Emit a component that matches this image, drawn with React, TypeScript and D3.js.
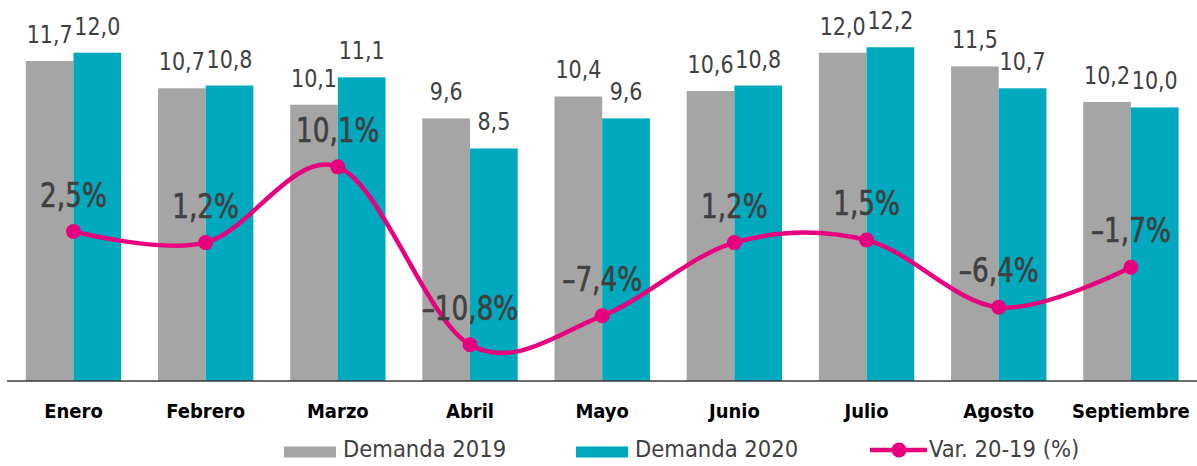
import React from "react";
import * as d3 from "d3";

const categories = ["Enero", "Febrero", "Marzo", "Abril", "Mayo", "Junio", "Julio", "Agosto", "Septiembre"];
const demanda2019 = [11.7, 10.7, 10.1, 9.6, 10.4, 10.6, 12.0, 11.5, 10.2];
const demanda2020 = [12.0, 10.8, 11.1, 8.5, 9.6, 10.8, 12.2, 10.7, 10.0];
const variacion = [2.5, 1.2, 10.1, -10.8, -7.4, 1.2, 1.5, -6.4, -1.7];
const seriesNames = ["Demanda 2019", "Demanda 2020", "Var. 20-19 (%)"];

const W = 1197;
const H = 466;
const FONT = "'DejaVu Sans Condensed', 'DejaVu Sans', sans-serif";
const GRAY = "#a5a5a5";
const TEAL = "#00a9bd";
const MAGENTA = "#e6007e";
const TEXT = "#404040";

const fmt = (v: number) => v.toFixed(1).replace(".", ",");
const fmtPct = (v: number) => (v < 0 ? "–" : "") + Math.abs(v).toFixed(1).replace(".", ",") + "%";

export default function App() {
  const x = d3.scaleBand<string>().domain(categories).range([7.4, 1197]).paddingInner(0).paddingOuter(0);
  const inner = d3.scaleBand<string>().domain(["a", "b"]).range([0, x.bandwidth()]).paddingOuter(0.386).paddingInner(0);
  const y = d3.scaleLinear().domain([0, 14]).range([381, -2]);
  const y2 = d3.scaleLinear().domain([-15, 30]).range([380.5, -2.5]);

  const pts: [number, number][] = variacion.map((v, i) => [x(categories[i])! + x.bandwidth() / 2, y2(v)]);
  const line = d3.line().curve(d3.curveCatmullRom.alpha(0))(pts) || "";

  return (
    <svg width={W} height={H} style={{ position: "absolute", left: 0, top: 0, background: "#fff" }} fontFamily={FONT}>
      {categories.map((c, i) => {
        const x0 = x(c)!;
        const bars = [
          { v: demanda2019[i], k: "a", col: GRAY },
          { v: demanda2020[i], k: "b", col: TEAL },
        ];
        return (
          <g key={c}>
            {bars.map((b) => (
              <g key={b.k}>
                <rect x={x0 + inner(b.k)!} y={y(b.v)} width={inner.bandwidth()} height={y(0) - y(b.v)} fill={b.col} />
                <text
                  transform={`translate(${x0 + inner(b.k)! + inner.bandwidth() / 2},${y(b.v) - 18}) scale(0.9,1)`}
                  textAnchor="middle"
                  fontSize={25.5}
                  fill={TEXT}
                >
                  {fmt(b.v)}
                </text>
              </g>
            ))}
            <text x={x0 + x.bandwidth() / 2} y={418} textAnchor="middle" fontSize={20} fontWeight="bold" fill="#000">
              {c}
            </text>
          </g>
        );
      })}
      <line x1={7} x2={1197} y1={381} y2={381} stroke="#3a3a3a" strokeWidth={1.5} />
      <path d={line} fill="none" stroke={MAGENTA} strokeWidth={4.5} />
      {pts.map((p, i) => (
        <g key={i}>
          <circle cx={p[0]} cy={p[1]} r={7.5} fill={MAGENTA} />
          <text
            transform={`translate(${p[0]},${p[1] - 25}) scale(0.86,1)`}
            textAnchor="middle"
            fontSize={34}
            fill={TEXT}
            stroke={TEXT}
            strokeWidth={0.6}
          >
            {fmtPct(variacion[i])}
          </text>
        </g>
      ))}
      <g>
        <rect x={284} y={446.5} width={52} height={11} fill={GRAY} />
        <text x={343} y={457} fontSize={23.5} fill={TEXT}>{seriesNames[0]}</text>
        <rect x={576} y={446.5} width={52} height={11} fill={TEAL} />
        <text x={635} y={457} fontSize={23.5} fill={TEXT}>{seriesNames[1]}</text>
        <line x1={870} x2={927} y1={450} y2={450} stroke={MAGENTA} strokeWidth={4.5} />
        <circle cx={899} cy={450} r={7.5} fill={MAGENTA} />
        <text x={929} y={457} fontSize={23.5} fill={TEXT}>{seriesNames[2]}</text>
      </g>
    </svg>
  );
}
